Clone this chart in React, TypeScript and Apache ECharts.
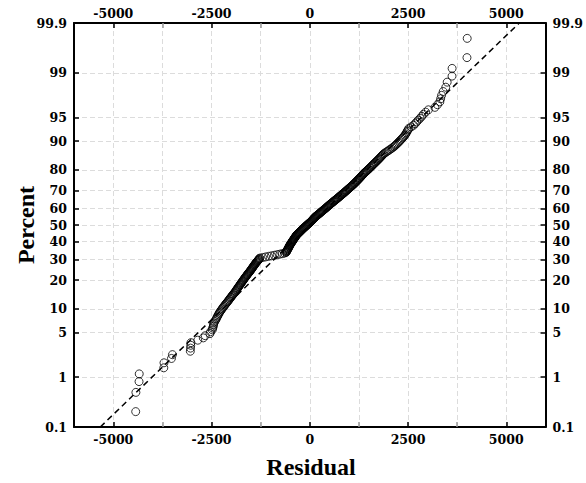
import React, { useEffect, useRef } from "react";
import * as echarts from "echarts";

// Sorted residuals (one value per plotted point)
const RESIDUALS: number[] = [
  -4430, -4425, -4345, -4340, -3715, -3710, -3520, -3495, -3040, -3035, -3030, -3025, -2850,
  -2710, -2660, -2540, -2525, -2480, -2470, -2455, -2450, -2440, -2420,
  -2395, -2377, -2361, -2342, -2326, -2307, -2290, -2270, -2247, -2228, -2205, -2186, -2163,
  -2144, -2121, -2102, -2080, -2061, -2045, -2025, -2008, -1989, -1973, -1953, -1937, -1917, -1900,
  -1887, -1871, -1859, -1843, -1831, -1815, -1803, -1787, -1775, -1760,
  -1748, -1733, -1722, -1707, -1696, -1681, -1670, -1655, -1644, -1630,
  -1618, -1603, -1592, -1577, -1566, -1551, -1540, -1525, -1514, -1500,
  -1490, -1477, -1468, -1455, -1446, -1433, -1424, -1411, -1402, -1390,
  -1379, -1365, -1355, -1341, -1331, -1317, -1307, -1293, -1283, -1270,
  -1200, -1125, -1050, -975, -900, -830, -760, -695, -640, -605, -595, -588, -582, -576,
  -568, -560, -552, -545, -538, -531, -524, -517, -510, -503,
  -494, -486, -477, -468, -460, -451, -442, -434, -425, -416, -407, -399, -390, -381, -372,
  -364, -355, -346, -337,
  -324, -311, -298, -285, -272, -259, -246, -233, -220, -207, -194, -181, -169,
  -154, -140, -125, -111, -96, -82, -67, -53, -38, -24, -9, 5, 20,
  32, 44, 56, 68, 80, 92, 104, 116, 128, 140,
  155, 171, 186, 202, 217, 233, 248, 264, 279, 295, 310, 326, 341, 357, 372, 388, 403, 419,
  434, 450, 465, 481, 496, 512, 527, 543,
  560, 577, 594, 610, 627, 644, 661, 678, 694, 711, 728, 745, 762, 778, 795,
  812, 829, 846, 862, 879, 896, 913, 930, 947, 964, 980, 997, 1014, 1031, 1048, 1065, 1081,
  1098, 1115, 1132,
  1148, 1163, 1179, 1195, 1210, 1226, 1242, 1257, 1273, 1289, 1305, 1320, 1336, 1352, 1367, 1383,
  1402, 1422, 1441, 1461, 1480, 1499, 1519, 1538, 1558, 1577, 1596, 1616, 1635,
  1656, 1677, 1698, 1719, 1740, 1761, 1781, 1802, 1823, 1844, 1865, 1886,
  1922, 1958, 1994, 2030, 2066, 2102, 2138,
  2166, 2194, 2223, 2251, 2279, 2307, 2335, 2364, 2392, 2420,
  2440, 2460, 2480, 2500, 2520, 2580, 2640, 2681, 2720, 2760, 2807, 2850, 2892, 2950, 3018,
  3184, 3250, 3310, 3330, 3353, 3395, 3461, 3496, 3620, 3622, 4000, 4006,
];

const PERCENT_TICKS: number[] = [0.1, 1, 5, 10, 20, 30, 40, 50, 60, 70, 80, 90, 95, 99, 99.9];
const X_MAJOR_TICKS: number[] = [-5000, -2500, 0, 2500, 5000];
const X_MINOR_TICKS: number[] = [-3750, -1250, 1250, 3750];
const X_MIN = -6000;
const X_MAX = 6000;
const FIT_MEAN = 0;
const FIT_SD = 1725;

// inverse standard normal CDF (Acklam) — the probability-scale transform
function normInv(p: number): number {
  const a = [-3.969683028665376e1, 2.209460984245205e2, -2.759285104469687e2, 1.38357751867269e2, -3.066479806614716e1, 2.506628277459239];
  const b = [-5.447609879822406e1, 1.615858368580409e2, -1.556989798598866e2, 6.680131188771972e1, -1.328068155288572e1];
  const c = [-7.784894002430293e-3, -3.223964580411365e-1, -2.400758277161838, -2.549732539343734, 4.374664141464968, 2.938163982698783];
  const d = [7.784695709041462e-3, 3.224671290700398e-1, 2.445134137142996, 3.754408661907416];
  const pl = 0.02425;
  if (p < pl) {
    const q = Math.sqrt(-2 * Math.log(p));
    return (((((c[0] * q + c[1]) * q + c[2]) * q + c[3]) * q + c[4]) * q + c[5]) / ((((d[0] * q + d[1]) * q + d[2]) * q + d[3]) * q + 1);
  }
  if (p > 1 - pl) {
    const q = Math.sqrt(-2 * Math.log(1 - p));
    return -(((((c[0] * q + c[1]) * q + c[2]) * q + c[3]) * q + c[4]) * q + c[5]) / ((((d[0] * q + d[1]) * q + d[2]) * q + d[3]) * q + 1);
  }
  const q = p - 0.5;
  const r = q * q;
  return ((((((a[0] * r + a[1]) * r + a[2]) * r + a[3]) * r + a[4]) * r + a[5]) * q) / (((((b[0] * r + b[1]) * r + b[2]) * r + b[3]) * r + b[4]) * r + 1);
}

export default function App() {
  const ref = useRef<HTMLDivElement>(null);

  useEffect(() => {
    if (!ref.current) return;
    const chart = echarts.init(ref.current, null, { renderer: "svg" });

    const n = RESIDUALS.length;
    const points = RESIDUALS.map((r, i) => [r, normInv((i + 1 - 0.3) / (n + 0.4))]);
    const zMin = normInv(PERCENT_TICKS[0] / 100);
    const zMax = normInv(PERCENT_TICKS[PERCENT_TICKS.length - 1] / 100);
    const zTicks = PERCENT_TICKS.map((p) => normInv(p / 100));
    const fmtY = (v: number) => {
      let best = 0;
      for (let k = 1; k < zTicks.length; k++) if (Math.abs(zTicks[k] - v) < Math.abs(zTicks[best] - v)) best = k;
      return String(PERCENT_TICKS[best]);
    };
    const fmtX = (v: number) => String(Math.round(v));

    const font = { fontFamily: "DejaVu Serif", fontWeight: "bold" as const, fontSize: 12.5, color: "#000" };
    const split = { show: true, lineStyle: { color: "#dcdcdc", type: [5, 3], width: 1 } };

    const majorX = (position: "top" | "bottom", margin: number, showSplit: boolean) => ({
      type: "value",
      position,
      min: X_MIN,
      max: X_MAX,
      axisLine: { show: true, onZero: false, lineStyle: { color: "#000", width: 2 } },
      axisTick: { show: true, inside: true, length: 5, customValues: X_MAJOR_TICKS, lineStyle: { color: "#000", width: 1.5 } },
      axisLabel: { show: true, customValues: X_MAJOR_TICKS, formatter: fmtX, margin, ...font },
      splitLine: showSplit ? split : { show: false },
    });
    const minorX = (position: "top" | "bottom", showSplit: boolean) => ({
      type: "value",
      position,
      min: X_MIN,
      max: X_MAX,
      axisLine: { show: false, onZero: false },
      axisTick: { show: true, inside: true, length: 5, customValues: X_MINOR_TICKS, lineStyle: { color: "#999", width: 1.5 } },
      axisLabel: { show: false },
      splitLine: showSplit ? split : { show: false },
    });
    const yAx = (position: "left" | "right", showSplit: boolean) => ({
      type: "value",
      position,
      min: zMin,
      max: zMax,
      axisLine: { show: true, onZero: false, lineStyle: { color: "#000", width: 2 } },
      axisTick: { show: true, inside: true, length: 5, customValues: zTicks, lineStyle: { color: "#000", width: 1.5 } },
      axisLabel: { show: true, customValues: zTicks, formatter: fmtY, margin: 7, ...font },
      splitLine: showSplit ? split : { show: false },
    });

    chart.setOption({
      animation: false,
      backgroundColor: "#fff",
      grid: { left: 74, right: 38, top: 23, bottom: 56 },
      xAxis: [majorX("bottom", 6, true), majorX("top", 3, false), minorX("bottom", true), minorX("top", false)],
      yAxis: [yAx("left", true), yAx("right", false)],
      series: [
        {
          type: "line",
          xAxisIndex: 0,
          yAxisIndex: 0,
          data: [
            [FIT_MEAN + FIT_SD * zMin, zMin],
            [FIT_MEAN + FIT_SD * zMax, zMax],
          ],
          symbol: "none",
          silent: true,
          lineStyle: { color: "#000", width: 1.5, type: [6, 4] },
          z: 1,
        },
        {
          type: "scatter",
          xAxisIndex: 0,
          yAxisIndex: 0,
          data: points,
          symbol: "circle",
          symbolSize: 8,
          itemStyle: { color: "rgba(0,0,0,0)", borderColor: "#000", borderWidth: 1 },
          z: 2,
        },
      ],
      graphic: [
        {
          type: "text",
          x: 26,
          y: 225,
          rotation: Math.PI / 2,
          style: {
            text: "Percent",
            fontFamily: "Liberation Serif",
            fontWeight: "bold",
            fontSize: 24,
            fill: "#000",
            textAlign: "center",
            textVerticalAlign: "middle",
          },
        },
        {
          type: "text",
          x: 311,
          y: 467,
          style: {
            text: "Residual",
            fontFamily: "Liberation Serif",
            fontWeight: "bold",
            fontSize: 24,
            fill: "#000",
            textAlign: "center",
            textVerticalAlign: "middle",
          },
        },
      ],
    });

    return () => chart.dispose();
  }, []);

  return (
    <div
      ref={ref}
      style={{ position: "fixed", left: 0, top: 0, width: 586, height: 483, background: "#fff" }}
    />
  );
}
